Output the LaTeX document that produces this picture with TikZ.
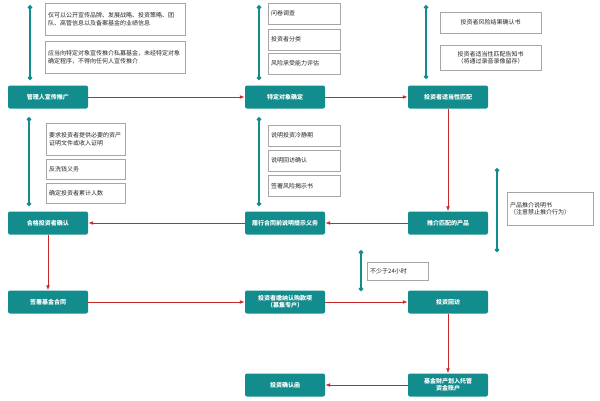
\documentclass[tikz,border=0pt]{standalone}
\usepackage{fontspec}
\setmainfont{Noto Sans CJK SC}
\XeTeXlinebreaklocale "zh"
\XeTeXlinebreakskip=0pt plus 1pt
\usetikzlibrary{arrows.meta, positioning}
\definecolor{tealbox}{RGB}{18,140,140}
\definecolor{flowred}{RGB}{200,40,40}
\tikzset{
  step box/.style = {rectangle, rounded corners=2pt, fill=tealbox, text=white,
    minimum width=80pt, minimum height=23pt, align=flush center, font=\fontsize{6}{7}\selectfont\bfseries},
  note/.style = {rectangle, draw=gray!70, fill=white, anchor=north west, align=flush left,
    inner sep=3pt, font=\fontsize{6}{7.5}\selectfont, text=gray!30!black},
  flow/.style = {draw=flowred, thick, -{Latex[length=5pt]}},
  bracket/.style = {draw=tealbox, line width=1.2pt, {Circle[length=4.5pt]}-{Circle[length=4.5pt]}}
}
\begin{document}
\begin{tikzpicture}[x=1pt, y=-1pt]
  \useasboundingbox (0,0) rectangle (600,400);
  % main steps
  \node (promote) [step box] at (48,97) {管理人宣传推广};
  \node (target) [step box] at (285,97) {特定对象确定};
  \node (match) [step box] at (448,97) {投资者适当性匹配};
  \node (qualify) [step box] at (48,223) {合格投资者确认};
  \node (disclose) [step box] at (285,223) {履行合同前说明提示义务};
  \node (recommend) [step box] at (448,223) {推介匹配的产品};
  \node (sign) [step box] at (48,302) {签署基金合同};
  \node (pay) [step box] at (285,302) {投资者缴纳认购款项\\（募集专户）};
  \node (revisit) [step box] at (448,302) {投资回访};
  \node (confirm) [step box] at (285,385) {投资确认函};
  \node (custody) [step box] at (448,385) {基金财产划入托管\\资金账户};

  % notes
  \node (n-brand) [note, text width=134pt, minimum height=32pt] at (45,3) {仅可以公开宣传品牌、发展战略、投资策略、团队、高管信息以及备案基金的业绩信息};
  \node (n-specific) [note, text width=134pt, minimum height=32pt] at (45,41) {应当向特定对象宣传推介私募基金，未经特定对象确定程序，不得向任何人宣传推介};
  \node (n-survey) [note, text width=66pt, minimum height=21pt] at (268,3) {问卷调查};
  \node (n-class) [note, text width=66pt, minimum height=21pt] at (268,29) {投资者分类};
  \node (n-risk) [note, text width=66pt, minimum height=21pt] at (268,53) {风险承受能力评估};
  \node (n-result) [note, text width=95pt, minimum height=21pt, align=flush center] at (440,12) {投资者风险结果确认书};
  \node (n-notice) [note, text width=95pt, minimum height=25pt, align=flush center] at (440,45) {投资者适当性匹配告知书\\（将通过录音录像留存）};
  \node (n-asset) [note, text width=73pt, minimum height=32pt] at (46,123) {要求投资者提供必要的资产证明文件或收入证明};
  \node (n-aml) [note, text width=73pt, minimum height=20pt] at (46,159) {反洗钱义务};
  \node (n-count) [note, text width=73pt, minimum height=20pt] at (46,183) {确定投资者累计人数};
  \node (n-cool) [note, text width=66pt, minimum height=21pt] at (268,125) {说明投资冷静期};
  \node (n-visit) [note, text width=66pt, minimum height=21pt] at (268,150) {说明回访确认};
  \node (n-warn) [note, text width=66pt, minimum height=21pt] at (268,175) {签署风险揭示书};
  \node (n-product) [note, text width=80pt, minimum height=33pt] at (507,192) {产品推介说明书\\（注意禁止推介行为）};
  \node (n-24h) [note, text width=55pt, minimum height=18pt] at (367,262) {不少于24小时};

  % brackets
  \coordinate (b1a) at (30,5);   \coordinate (b1b) at (30,80);
  \coordinate (b2a) at (259,5);  \coordinate (b2b) at (259,80);
  \coordinate (b3a) at (426,5);  \coordinate (b3b) at (426,79);
  \coordinate (b4a) at (29,117); \coordinate (b4b) at (29,206);
  \coordinate (b5a) at (259,117); \coordinate (b5b) at (259,206);
  \coordinate (b6a) at (497,168); \coordinate (b6b) at (497,252);
  \coordinate (b7a) at (361,250); \coordinate (b7b) at (361,291);
  \foreach \b in {1,...,7}
    \draw [bracket] (b\b a) -- (b\b b);

  % flow
  \draw [flow] (promote) -- (target);
  \draw [flow] (target) -- (match);
  \draw [flow] (match) -- (recommend);
  \draw [flow] (recommend) -- (disclose);
  \draw [flow] (disclose) -- (qualify);
  \draw [flow] (qualify) -- (sign);
  \draw [flow] (sign) -- (pay);
  \draw [flow] (pay) -- (revisit);
  \draw [flow] (revisit) -- (custody);
  \draw [flow] (custody) -- (confirm);
\end{tikzpicture}
\end{document}
